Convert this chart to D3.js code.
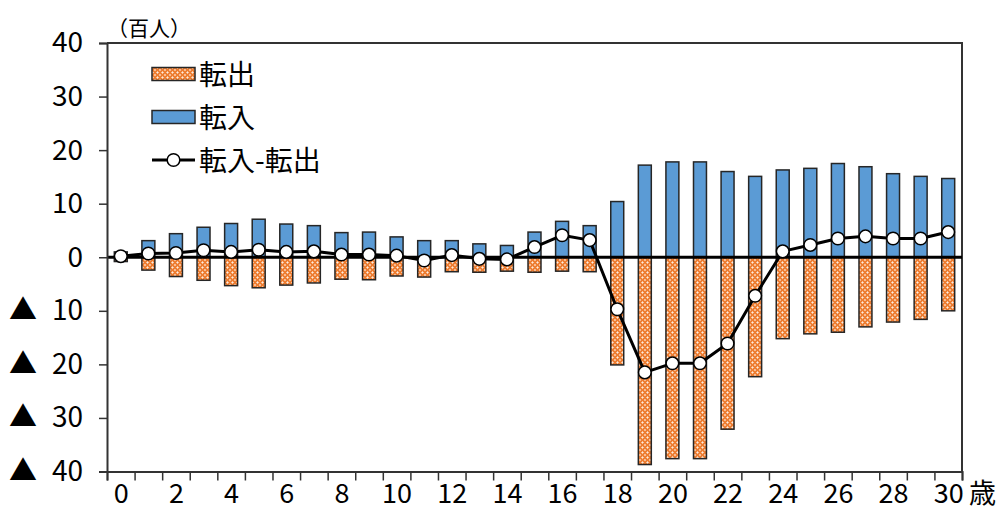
<!DOCTYPE html>
<html>
<head>
<meta charset="utf-8">
<script src="https://cdn.jsdelivr.net/npm/d3@7"></script>
<style>
  html, body { margin: 0; padding: 0; background: #fff; }
  svg { display: block; font-family: "Noto Sans CJK JP", "Noto Sans", sans-serif; }
</style>
</head>
<body>
<svg id="chart" width="1003" height="511"></svg>
<script>
// Ages 0–30
const ages = d3.range(0, 31);
// 転入 (moved in), hundreds of people
const inflow = [1.0, 3.1, 4.4, 5.6, 6.3, 7.1, 6.2, 5.9, 4.6, 4.7, 3.8, 3.1, 3.1, 2.5, 2.2, 4.7,
  6.7, 5.9, 10.4, 17.2, 17.8, 17.8, 16.0, 15.1, 16.3, 16.6, 17.5, 16.9, 15.6, 15.1, 14.7];
// 転出 (moved out), plotted as negatives
const outflow = [-0.8, -2.4, -3.6, -4.3, -5.3, -5.7, -5.2, -4.8, -4.1, -4.2, -3.5, -3.7, -2.7, -2.8, -2.6, -2.8,
  -2.6, -2.7, -20.1, -38.7, -37.6, -37.6, -32.1, -22.3, -15.2, -14.3, -14.0, -13.0, -12.1, -11.6, -10.0];
// 転入−転出 (net)
const net = [0.2, 0.7, 0.8, 1.3, 1.0, 1.4, 1.0, 1.1, 0.5, 0.5, 0.3, -0.6, 0.4, -0.3, -0.4, 1.9,
  4.1, 3.2, -9.7, -21.5, -19.8, -19.8, -16.1, -7.2, 1.1, 2.3, 3.5, 3.9, 3.5, 3.5, 4.7];
const yTicks = [40, 30, 20, 10, 0, -10, -20, -30, -40];
const xLabelAges = d3.range(0, 31, 2);
const seriesNames = ["転出", "転入", "転入-転出"];

const svg = d3.select("#chart");
const plotL = 107, plotR = 962, plotT = 43, plotB = 471.5;

const x = d3.scaleLinear().domain([-0.5, 30.5]).range([plotL, plotR]);
const y = d3.scaleLinear().domain([-40, 40]).range([plotB, plotT]);
const step = x(1) - x(0);
const barW = step * 0.47;

const BLUE = "#5B9BD5", ORANGE = "#ED7D31", EDGE = "#262626", AXIS = "#333";

// lattice fill for the outflow bars
const defs = svg.append("defs");
const pat = defs.append("pattern").attr("id", "lattice")
  .attr("patternUnits", "userSpaceOnUse").attr("width", 5).attr("height", 5);
pat.append("rect").attr("width", 5).attr("height", 5).attr("fill", ORANGE);
pat.append("path").attr("d", "M1.3,2.5 H3.7 M2.5,1.3 V3.7").attr("stroke", "#FDEBDD").attr("stroke-width", 0.9);
[[0, 0], [5, 0], [0, 5], [5, 5]].forEach(([cx, cy]) =>
  pat.append("circle").attr("cx", cx).attr("cy", cy).attr("r", 0.9).attr("fill", "#FBD9C2"));

// plot frame (top and right edges)
svg.append("path")
  .attr("d", `M${plotL},${plotT} H${plotR} V${plotB}`)
  .attr("fill", "none").attr("stroke", AXIS).attr("stroke-width", 2);

// bars
svg.append("g").selectAll("rect").data(ages).join("rect")
  .attr("x", d => x(d) - barW / 2)
  .attr("width", barW)
  .attr("y", d => y(inflow[d]))
  .attr("height", d => y(0) - y(inflow[d]))
  .attr("fill", BLUE).attr("stroke", EDGE).attr("stroke-width", 1.5);

svg.append("g").selectAll("rect").data(ages).join("rect")
  .attr("x", d => x(d) - barW / 2)
  .attr("width", barW)
  .attr("y", y(0))
  .attr("height", d => y(outflow[d]) - y(0))
  .attr("fill", "url(#lattice)").attr("stroke", EDGE).attr("stroke-width", 1.5);

// zero line
svg.append("line")
  .attr("x1", plotL).attr("x2", plotR).attr("y1", y(0)).attr("y2", y(0))
  .attr("stroke", "#000").attr("stroke-width", 3);

// y axis
const yAxis = svg.append("g").attr("transform", `translate(${plotL},0)`)
  .call(d3.axisLeft(y).tickValues(yTicks).tickSize(8).tickPadding(0).tickFormat(d => Math.abs(d)));
yAxis.select(".domain").attr("stroke", AXIS).attr("stroke-width", 2);
yAxis.selectAll(".tick line").attr("stroke", AXIS).attr("stroke-width", 1.5);
yAxis.selectAll(".tick text").each(function (d) {
  const t = d3.select(this).text(null).attr("x", null).attr("text-anchor", null)
    .attr("font-size", 28).attr("fill", "#000").attr("font-family", "Noto Sans CJK JP");
  if (d < 0) {
    t.append("tspan").attr("x", -98).attr("text-anchor", "start").text("▲");
  }
  t.append("tspan").attr("x", -24).attr("text-anchor", "end").text(Math.abs(d));
});

// x axis: ticks at category boundaries, labels on even ages
const xAxis = svg.append("g").attr("transform", `translate(0,${plotB})`)
  .call(d3.axisBottom(x).tickValues(d3.range(-0.5, 31, 1)).tickSize(9).tickFormat(""));
xAxis.select(".domain").attr("stroke", AXIS).attr("stroke-width", 2);
xAxis.selectAll(".tick line").attr("stroke", AXIS).attr("stroke-width", 1.5);

const xLab = svg.append("g").attr("transform", `translate(0,${plotB})`)
  .call(d3.axisBottom(x).tickValues(xLabelAges).tickSize(0).tickPadding(12).tickFormat(d3.format("d")));
xLab.select(".domain").remove();
xLab.selectAll(".tick text").attr("font-size", 27).attr("fill", "#000")
  .attr("font-family", "Noto Sans CJK JP");

svg.append("text").attr("x", 969).attr("y", plotB + 31.5)
  .attr("font-size", 27).text("歳");

// unit label
svg.append("text").attr("x", 107).attr("y", 36)
  .attr("font-size", 21).text("（百人）");

// net line with markers
const line = d3.line().x(d => x(d)).y(d => y(net[d]));
svg.append("path").datum(ages).attr("d", line)
  .attr("fill", "none").attr("stroke", "#000").attr("stroke-width", 3).attr("stroke-linejoin", "round");
svg.append("g").selectAll("circle").data(ages).join("circle")
  .attr("cx", d => x(d)).attr("cy", d => y(net[d])).attr("r", 6.3)
  .attr("fill", "#fff").attr("stroke", "#000").attr("stroke-width", 1.5);

// legend
const lg = svg.append("g");
const lx = 152, lw = 43, rowY = [74, 117, 160];
lg.append("rect").attr("x", lx).attr("y", rowY[0] - 6.5).attr("width", lw).attr("height", 13)
  .attr("fill", "url(#lattice)").attr("stroke", EDGE).attr("stroke-width", 1.5);
lg.append("rect").attr("x", lx).attr("y", rowY[1] - 6.5).attr("width", lw).attr("height", 13)
  .attr("fill", BLUE).attr("stroke", EDGE).attr("stroke-width", 1.5);
lg.append("line").attr("x1", lx).attr("x2", lx + lw).attr("y1", rowY[2]).attr("y2", rowY[2])
  .attr("stroke", "#000").attr("stroke-width", 3);
lg.append("circle").attr("cx", lx + lw / 2).attr("cy", rowY[2]).attr("r", 6.3)
  .attr("fill", "#fff").attr("stroke", "#000").attr("stroke-width", 1.5);
lg.selectAll("text").data(seriesNames).join("text")
  .attr("x", 199).attr("y", (d, i) => rowY[i] + 10.5)
  .attr("font-size", 28).attr("fill", "#000").text(d => d);
</script>
</body>
</html>
